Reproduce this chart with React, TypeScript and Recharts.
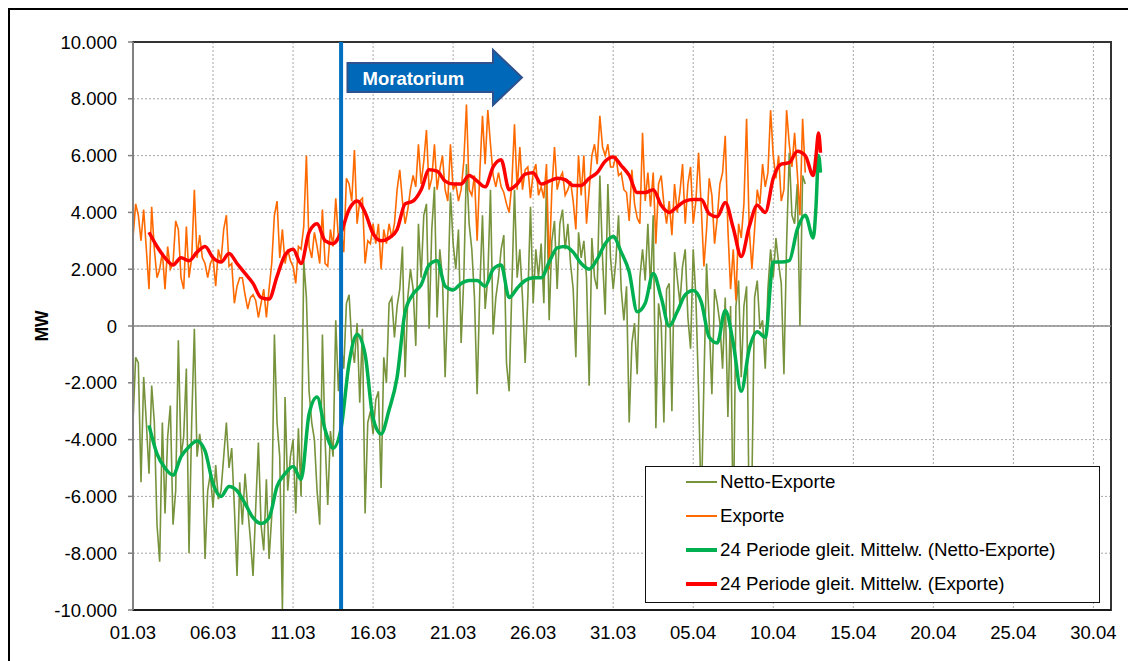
import React from 'react';
import {
  LineChart,
  Line,
  XAxis,
  YAxis,
  CartesianGrid,
  ReferenceLine,
  ReferenceArea,
  Legend,
} from 'recharts';

// ---------- DATA ----------
// raw series: one value every 4 hours starting 01.03 00:00 (day 0)
const RAW_STEP_DAYS = 1 / 6;

const nettoExporte = [
  -3400, -1100, -1300, -5500, -1800, -3400, -5200, -2100, -3400, -7000,
  -8300, -3400, -6600, -3900, -2800, -7000, -5800, -500, -4600, -3900,
  -1500, -8000, -3400, -100, -4600, -3800, -4600, -8200, -5800, -5200,
  -6400, -4900, -6100, -5800, -4600, -3400, -5000, -4300, -6400, -8800,
  -5500, -7000, -5200, -6400, -7500, -8800, -6400, -4100, -7000, -7900,
  -5400, -8200, -6700, -300, -3400, -4600, -10000, -2500, -5800, -4600,
  -4000, -6600, -3600, -6000, 2300, 1000, -2300, -3400, -4000, -5800,
  -7000, -300, -4000, -6300, -3700, -4600, 200, -2300, -600, -1500,
  800, 1100, -600, -1300, 100, -2700, -100, -6600, -3400, -3000,
  -3800, -2600, -2300, -5700, -1100, -2000, 800, 1000, -400, 700,
  1300, 2800, -1800, 1000, 2000, 1300, -700, 3600, 1700, 3900,
  4300, -100, 3400, 4900, 300, 2700, 1700, -1800, 1000, 4700,
  2900, 2000, 3400, -600, 1700, 5700, 3600, 2700, 1000, -2400,
  1300, 3900, 600, 1700, 4800, -300, 1000, 1700, 2700, 3200,
  -1300, -2300, 1300, 4800, 1700, 2700, 1000, -1300, 1000, 4200,
  800, 2700, 1700, 2900, 800, 5100, 200, 3000, 3700, 1300,
  3600, 4100, 2700, 3600, 2200, 1300, -1100, 3300, 2400, 3000,
  1700, -2100, 3100, 1700, 1300, 5300, 2400, 400, 5000, 2400,
  1300, 2300, 3900, 1300, 200, 1400, -3400, -600, 100, -1700,
  1700, 2700, 1600, 3600, 1300, 3900, -3600, 800, 100, -3400,
  1300, 1500, -3000, 2600, 1700, 800, 2100, 2700, 300, -800,
  2700, 1000, -2300, -6500, -2000, 2200, 100, -2400, 1300, 800,
  100, -1500, 1000, -3200, 700, -7500, 700, 1600, -1800, 700,
  1400, -7000, -5500, 1000, 1600, -100, 200, -1500, 1300, 2700,
  1700, 3100, 2200, 1500, -1700, 2900, 6100, 3900, 3600, 5000,
  0, 5300, 5000,
];

const exporte = [
  3100, 4300, 3900, 3000, 4100, 2700, 1300, 4200, 2700, 1700,
  2000, 2600, 1300, 2800, 2000, 2200, 3700, 3400, 1700, 1300,
  3500, 1700, 2400, 4800, 2400, 3200, 2400, 2200, 1700, 2200,
  2400, 1400, 2700, 2300, 3400, 3900, 2100, 2200, 800, 1400,
  1700, 1700, 1100, 600, 1000, 1100, 900, 300, 800, 1300,
  300, 1300, 2200, 3900, 4400, 2400, 3400, 2200, 2700, 2300,
  2100, 1500, 2800, 2700, 3500, 6000, 2800, 2400, 3300, 2800,
  2200, 4100, 2200, 2100, 3400, 2800, 4500, 3100, 3400, 2600,
  5200, 5000, 4400, 6200, 3600, 4400, 4500, 2200, 3000, 2900,
  3600, 2900, 3600, 2000, 3400, 2900, 3600, 3100, 3600, 4800,
  5500, 4400, 3600, 4100, 4800, 5300, 4900, 6400, 5000, 5800,
  6900, 4800, 5200, 6400, 4800, 5500, 6000, 4800, 4400, 6400,
  4800, 5000, 4400, 4800, 5800, 7800, 4800, 4600, 5300, 3000,
  5400, 7400, 5700, 7600, 6400, 5300, 4900, 5400, 4900, 4700,
  4300, 4000, 5000, 7100, 4800, 6300, 4800, 5500, 5600, 4500,
  5400, 5700, 4600, 4900, 4500, 5700, 2000, 4800, 6300, 4800,
  5200, 5400, 4600, 4800, 5100, 4400, 3400, 6000, 4600, 6000,
  3600, 4800, 6000, 6400, 5700, 7400, 6300, 6000, 6400, 5600,
  5600, 6000, 5300, 5400, 4800, 4700, 3700, 5500, 4300, 3800,
  3600, 6800, 4400, 5400, 4200, 5400, 2900, 5000, 5300, 4300,
  3600, 4400, 3200, 5000, 4000, 4700, 5700, 3600, 5000, 5600,
  3600, 4400, 6100, 4200, 2100, 3400, 5200, 4600, 2900, 3800,
  5000, 5400, 6700, 3400, 1300, 2700, 900, 3600, 3100, 4300,
  7300, 3400, 2000, 3400, 4800, 4300, 5700, 4900, 5400, 7600,
  6000, 5200, 6000, 4400, 4800, 7600, 6400, 5600, 6800, 5400,
  3900, 7300, 5400,
];

// 24-period moving averages, read every half day from 02.03 (day 1)
const MA_START_DAY = 1;
const MA_STEP_DAYS = 0.5;

const maNetto = [
  -3500, -4500, -5000, -5250, -4600, -4250, -4050, -4400, -5550, -6000,
  -5650, -5800, -6250, -6750, -6950, -6750, -5650, -5200, -4950, -5400,
  -3100, -2500, -3650, -4300, -3600, -1300, -300, -1000, -3250, -3800,
  -2950, -1800, 500, 1130, 1450, 2150, 2300, 1400, 1270, 1500,
  1600, 1600, 1400, 2000, 2150, 1000, 1330, 1600, 1700, 1700,
  2250, 2750, 2800, 2600, 2200, 2000, 2350, 2900, 3150, 2600,
  1900, 500, 800, 1850, 1000, 0, 500, 1100, 1250, 850,
  -400, -600, 550, -600, -2300, -800, -200, -400, 2250, 2250,
  2300, 3400, 3900, 3100,
];

const maExporte = [
  3300, 2800, 2400, 2150, 2400, 2300, 2600, 2800, 2400, 2250,
  2550, 2200, 1850, 1500, 1000, 950, 1750, 2500, 2700, 2200,
  3300, 3600, 3000, 2900, 3300, 4100, 4400, 4000, 3250, 3000,
  3100, 3400, 4300, 4400, 4800, 5500, 5450, 5100, 5000, 5000,
  5300, 5100, 4900, 5600, 5850, 4800, 5000, 5350, 5400, 5000,
  5100, 5200, 5150, 4950, 4950, 5200, 5400, 5800, 5950, 5650,
  5300, 4700, 4700, 4800, 4250, 4000, 4200, 4400, 4450, 4450,
  3950, 3850, 4350, 3450, 2450, 3500, 4250, 4000, 5200, 5700,
  5750, 6150, 6000, 5300,
];

// last hours of the moving averages (sharp jump at the end)
const maTailDays = [42.67, 42.83, 42.95];
const maNettoTail = [4200, 6000, 5400];
const maExporteTail = [6000, 6800, 6100];

const xTicks = [0, 5, 10, 15, 20, 25, 30, 35, 40, 45, 50, 55, 60];
const xTickLabels = [
  '01.03', '06.03', '11.03', '16.03', '21.03', '26.03', '31.03',
  '05.04', '10.04', '15.04', '20.04', '25.04', '30.04',
];
const X_DOMAIN_MAX = 61.1;
const yTicks = [-10000, -8000, -6000, -4000, -2000, 0, 2000, 4000, 6000, 8000, 10000];

const moratoriumDay = 13;
const arrowDays = [13.4, 24.3];
const arrowValues = [7780, 9720];

// ---------- STYLE ----------
const FONT = "'Liberation Sans', Arial, sans-serif";
const FS = 18.5;
const OLIVE = '#77933C';
const ORANGE = '#FF6A00';
const GREEN = '#00B050';
const RED = '#FF0000';
const BLUE = '#0070C0';

const rawData = nettoExporte.map((v, i) => ({
  d: i * RAW_STEP_DAYS,
  netto: v,
  exporte: exporte[i],
}));

const maData = maNetto
  .map((v, i) => ({
    d: MA_START_DAY + i * MA_STEP_DAYS,
    maNetto: v,
    maExporte: maExporte[i],
  }))
  .concat(
    maTailDays.map((d, k) => ({
      d,
      maNetto: maNettoTail[k],
      maExporte: maExporteTail[k],
    }))
  );

const legendItems = [
  { label: 'Netto-Exporte', color: OLIVE, w: 2 },
  { label: 'Exporte', color: ORANGE, w: 2 },
  { label: '24 Periode gleit. Mittelw. (Netto-Exporte)', color: GREEN, w: 4 },
  { label: '24 Periode gleit. Mittelw. (Exporte)', color: RED, w: 4 },
];

const fmtY = (v: number) => {
  if (v === 0) return '0';
  return (v < 0 ? '-' : '') + Math.abs(v / 1000) + '.000';
};

const fmtX = (v: number) => {
  const idx = xTicks.indexOf(v);
  return idx >= 0 ? xTickLabels[idx] : '';
};

function LegendBox() {
  return (
    <div
      style={{
        width: 455,
        height: 137,
        boxSizing: 'border-box',
        border: '1.5px solid #111',
        background: '#fff',
        fontFamily: FONT,
        fontSize: 18.7,
        color: '#000',
      }}
    >
      <div style={{ marginTop: -1.5 }}>
        {legendItems.map((it) => (
          <div
            key={it.label}
            style={{ height: 34, display: 'flex', alignItems: 'center' }}
          >
            <div
              style={{
                marginLeft: 40,
                width: 31,
                height: it.w,
                background: it.color,
              }}
            />
            <span style={{ marginLeft: 3, whiteSpace: 'nowrap' }}>{it.label}</span>
          </div>
        ))}
      </div>
    </div>
  );
}

function ArrowShape(props: any) {
  const { x, y, width: w, height: h } = props;
  if (x == null || y == null) return null;
  const bx = x + 0.834 * w;
  const pts = [
    [x, y + 0.236 * h],
    [bx, y + 0.236 * h],
    [bx, y],
    [x + w, y + 0.5 * h],
    [bx, y + h],
    [bx, y + 0.764 * h],
    [x, y + 0.764 * h],
  ]
    .map((p) => p.join(','))
    .join(' ');
  return (
    <g>
      <polygon points={pts} fill="#0068B8" stroke="#2E528F" strokeWidth={2} />
      <text
        x={x + 0.086 * w}
        y={y + 0.64 * h}
        fill="#fff"
        fontFamily={FONT}
        fontWeight="bold"
        fontSize={FS}
      >
        Moratorium
      </text>
    </g>
  );
}

function MWLabel(props: any) {
  const vb = props.viewBox || {};
  const cy = (vb.y || 0) + (vb.height || 0) / 2;
  const cx = 40;
  return (
    <text
      x={cx}
      y={cy}
      transform={`rotate(-90 ${cx} ${cy})`}
      textAnchor="middle"
      fontFamily={FONT}
      fontWeight="bold"
      fontSize={FS - 1}
      fill="#000"
    >
      MW
    </text>
  );
}

export default function App() {
  return (
    <div style={{ position: 'relative', width: 1128, height: 653 }}>
      <style>{'html{overflow:hidden}'}</style>
      <LineChart
        width={1128}
        height={653}
        margin={{ top: 34, right: 25, bottom: 21, left: 0 }}
        style={{ background: '#fff' }}
      >
        <CartesianGrid stroke="#a6a6a6" strokeDasharray="2 2" strokeWidth={1} />
        <XAxis
          type="number"
          dataKey="d"
          domain={[0, X_DOMAIN_MAX]}
          ticks={xTicks}
          tickFormatter={fmtX}
          allowDataOverflow
          height={30}
          tickLine={false}
          tickSize={5}
          tickMargin={11}
          axisLine={{ stroke: '#1a1a1a', strokeWidth: 2 }}
          tick={{ fill: '#000', fontFamily: FONT, fontSize: FS }}
        />
        <YAxis
          type="number"
          domain={[-10000, 10000]}
          ticks={yTicks}
          tickFormatter={fmtY}
          allowDataOverflow
          width={125}
          tickSize={5}
          tickMargin={11}
          tickLine={{ stroke: '#808080', strokeWidth: 1.5 }}
          axisLine={{ stroke: '#808080', strokeWidth: 2 }}
          tick={{ fill: '#000', fontFamily: FONT, fontSize: FS }}
          label={<MWLabel />}
        />
        <ReferenceArea
          x1={0}
          x2={X_DOMAIN_MAX}
          y1={-10000}
          y2={10000}
          fill="none"
          stroke="#333"
          strokeWidth={2}
          ifOverflow="visible"
        />
        <ReferenceLine y={0} stroke="#8c8c8c" strokeWidth={1.5} />
        <Line
          data={rawData}
          dataKey="netto"
          name="Netto-Exporte"
          type="linear"
          stroke={OLIVE}
          strokeWidth={1.6}
          dot={false}
          activeDot={false}
          isAnimationActive={false}
        />
        <Line
          data={rawData}
          dataKey="exporte"
          name="Exporte"
          type="linear"
          stroke={ORANGE}
          strokeWidth={1.6}
          dot={false}
          activeDot={false}
          isAnimationActive={false}
        />
        <Line
          data={maData}
          dataKey="maNetto"
          name="24 Periode gleit. Mittelw. (Netto-Exporte)"
          type="monotone"
          stroke={GREEN}
          strokeWidth={3.5}
          dot={false}
          activeDot={false}
          isAnimationActive={false}
        />
        <Line
          data={maData}
          dataKey="maExporte"
          name="24 Periode gleit. Mittelw. (Exporte)"
          type="monotone"
          stroke={RED}
          strokeWidth={3.5}
          dot={false}
          activeDot={false}
          isAnimationActive={false}
        />
        <ReferenceLine x={moratoriumDay} stroke={BLUE} strokeWidth={4} />
        <ReferenceArea
          x1={arrowDays[0]}
          x2={arrowDays[1]}
          y1={arrowValues[0]}
          y2={arrowValues[1]}
          shape={<ArrowShape />}
        />
        <Legend
          layout="vertical"
          align="center"
          verticalAlign="middle"
          content={<LegendBox />}
          wrapperStyle={{ position: 'absolute', left: 637, top: 457.5, width: 455, height: 137 }}
        />
      </LineChart>
      <div
        style={{
          position: 'absolute',
          left: 0,
          top: 0,
          width: 1128,
          height: 653,
          boxSizing: 'border-box',
          borderTop: '2.5px solid #000',
          borderLeft: '2.5px solid #000',
          pointerEvents: 'none',
        }}
      />
    </div>
  );
}
